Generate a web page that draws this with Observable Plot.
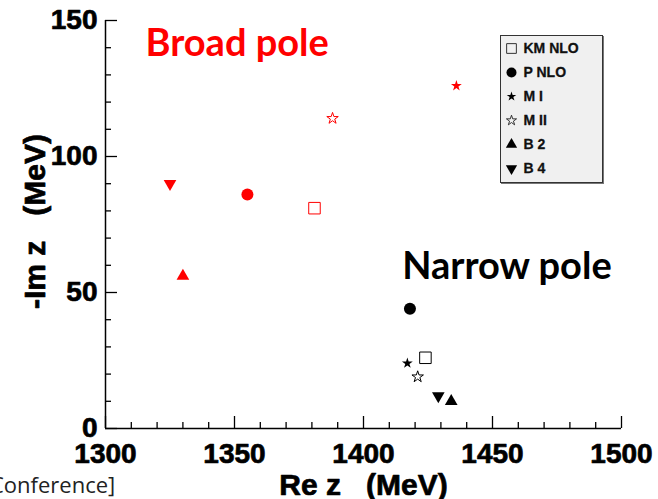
<!DOCTYPE html>
<html><head><meta charset="utf-8">
<script src="https://cdn.jsdelivr.net/npm/d3@7"></script>
<script src="https://cdn.jsdelivr.net/npm/@observablehq/plot@0.6"></script>
<style>
body{margin:0;background:#fff;}
#wrap{position:relative;width:658px;height:499px;overflow:hidden;}
#wrap svg text{white-space:pre;}
#legend{position:absolute;left:500px;top:35px;width:103px;height:148px;background:#f0f0f0;border:1.5px solid #333;box-sizing:border-box;box-shadow:1px 1px 0 #777;}
#legend svg{position:absolute;left:0;top:0;}
#caption{position:absolute;left:-10px;top:473px;font:22px "Open Sans",sans-serif;line-height:22px;color:#222;white-space:nowrap;}
</style></head><body><div id="wrap"></div>
<script>
const models = ["KM NLO", "P NLO", "M I", "M II", "B 2", "B 4"];
const broadRe = [1381, 1355, 1436, 1388, 1330, 1325];
const broadIm = [81, 86, 126, 114, 56, 90];
const narrowRe = [1424, 1418, 1417, 1421, 1434, 1429];
const narrowIm = [26, 44, 24, 19, 10, 12];
const xTicks = [1300, 1350, 1400, 1450, 1500];
const yTicks = [0, 50, 100, 150];
const xLabel = "Re z   (MeV)";
const yLabel = "-Im z   (MeV)";
const notes = ["Broad pole", "Narrow pole"];
const noteRe = [1315.5, 1415];
const noteIm = [136.8, 54.8];
const captionText = "Conference]";

const sty = {
  "KM NLO": {symbol: "square", filled: false, r: 6.5, lr: 5.5},
  "P NLO": {symbol: "circle", filled: true, r: 6, lr: 5},
  "M I": {symbol: "star", filled: true, r: 3.4, lr: 3},
  "M II": {symbol: "star", filled: false, r: 3.6, lr: 3.2},
  "B 2": {symbol: "triangle", filled: true, r: 4.7, lr: 4.2, rotate: 0},
  "B 4": {symbol: "triangle", filled: true, r: 4.7, lr: 4.2, rotate: 180}
};

const poles = models.flatMap((m, i) => [
  {model: m, pole: "broad", re: broadRe[i], im: broadIm[i]},
  {model: m, pole: "narrow", re: narrowRe[i], im: narrowIm[i]}
]);
const noteRows = notes.map((t, i) => ({t, re: noteRe[i], im: noteIm[i]}));

const minorX = d3.range(1300, 1501, 10).filter(v => v % 50);
const minorY = d3.range(0, 151, 10).filter(v => v % 50);
const font = "'Liberation Sans', Arial, sans-serif";
const heavy = {fontWeight: "bold", fill: "#000", stroke: "#000", strokeWidth: 0.7};

function dotMark(data, m, color, r) {
  const s = sty[m];
  return Plot.dot(data, {
    x: "re", y: "im", symbol: s.symbol, r,
    rotate: s.rotate || 0,
    fill: s.filled ? color : "none",
    stroke: s.filled ? "none" : color,
    strokeWidth: 1
  });
}

const marks = [
  Plot.ruleX([1300], {stroke: "#000", strokeWidth: 1.5}),
  Plot.ruleY([0], {stroke: "#000", strokeWidth: 1.5}),
  Plot.axisX({ticks: xTicks, tickSize: -12, tickFormat: () => "", label: null, strokeWidth: 1.3}),
  Plot.axisX({ticks: minorX, tickSize: -6, tickFormat: () => "", label: null, strokeWidth: 1.3}),
  Plot.axisY({ticks: yTicks, tickSize: -12, tickFormat: () => "", label: null, strokeWidth: 1.3}),
  Plot.axisY({ticks: minorY, tickSize: -6, tickFormat: () => "", label: null, strokeWidth: 1.3}),
  Plot.text(xTicks, {x: d => d, frameAnchor: "bottom", lineAnchor: "top", dy: 15, text: d => String(d),
    textAnchor: "middle", fontSize: 28, ...heavy}),
  Plot.text(yTicks, {y: d => d, frameAnchor: "left", lineAnchor: "middle", dx: -8, text: d => String(d),
    textAnchor: "end", fontSize: 28, ...heavy}),
  Plot.text([xLabel], {frameAnchor: "bottom", dy: 66, text: d => d, textAnchor: "middle", fontSize: 30, ...heavy}),
  Plot.text([yLabel], {frameAnchor: "left", dx: -70, dy: -3, rotate: -90, text: d => d, textAnchor: "middle", lineAnchor: "middle", fontSize: 30, ...heavy}),
  Plot.text(noteRows, {x: "re", y: "im", text: "t", textAnchor: "start", lineAnchor: "bottom",
    fontFamily: "Lato", fontSize: 38, fontWeight: "bold", fill: (d, i) => i === 0 ? "#ff0000" : "#000"})
];
for (const m of models) {
  marks.push(dotMark(poles.filter(d => d.model === m && d.pole === "broad"), m, "#ff0000", sty[m].r));
  marks.push(dotMark(poles.filter(d => d.model === m && d.pole === "narrow"), m, "#000", sty[m].r));
}

const chart = Plot.plot({
  width: 658, height: 499,
  marginLeft: 105, marginRight: 37, marginTop: 20, marginBottom: 71,
  x: {domain: [1300, 1500]},
  y: {domain: [0, 150]},
  style: {fontFamily: font, background: "transparent", overflow: "visible"},
  marks
});

const wrap = document.getElementById("wrap");
wrap.appendChild(chart);

const legendBox = document.createElement("div");
legendBox.id = "legend";
const legendMarks = [];
for (const m of models) {
  const s = sty[m];
  legendMarks.push(Plot.dot([m], {y: d => d, frameAnchor: "left", dx: 10, symbol: s.symbol, r: s.lr,
    rotate: s.rotate || 0, fill: s.filled ? "#000" : "none", stroke: s.filled ? "none" : "#333", strokeWidth: 1}));
}
legendMarks.push(Plot.text(models, {y: d => d, frameAnchor: "left", dx: 22, text: d => d, textAnchor: "start",
  fontSize: 14, fontWeight: "bold", fill: "#111", stroke: "#111", strokeWidth: 0.3}));
const legend = Plot.plot({
  width: 100, height: 145,
  marginLeft: 0, marginRight: 0, marginTop: 11, marginBottom: 13,
  y: {domain: models, type: "point", padding: 0, axis: null},
  x: {axis: null},
  style: {fontFamily: font, background: "transparent", overflow: "visible"},
  marks: legendMarks
});
legendBox.appendChild(legend);
wrap.appendChild(legendBox);

const cap = document.createElement("div");
cap.id = "caption";
cap.textContent = captionText;
wrap.appendChild(cap);
</script>
</body></html>
